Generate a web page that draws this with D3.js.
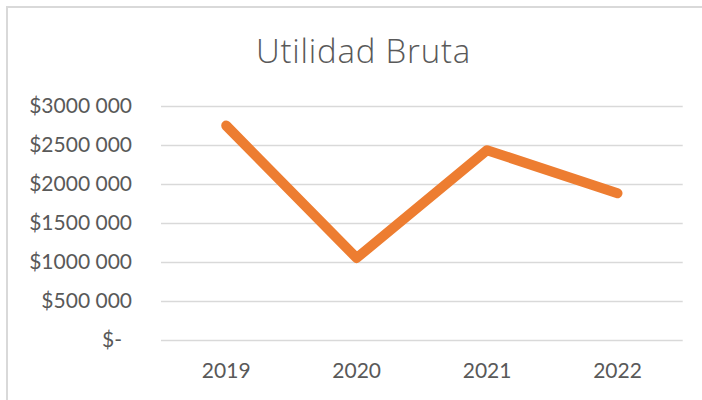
<!DOCTYPE html>
<html>
<head>
<meta charset="utf-8">
<script src="https://cdn.jsdelivr.net/npm/d3@7"></script>
<style>
  html, body { margin: 0; padding: 0; background: #ffffff; }
  svg { display: block; }
</style>
</head>
<body>
<svg id="chart" width="702" height="400"></svg>
<script>
const title = "Utilidad Bruta";
const years = ["2019", "2020", "2021", "2022"];
const utilidadBruta = [2745000, 1050000, 2430000, 1880000];
const yTicks = [0, 500000, 1000000, 1500000, 2000000, 2500000, 3000000];
const yTickLabels = ["$-", "$500 000", "$1000 000", "$1500 000", "$2000 000", "$2500 000", "$3000 000"];

const svg = d3.select("#chart");
const textColor = "#595959";
const font = "Lato, 'Open Sans', sans-serif";

// chart border (cropped on right/bottom)
svg.append("rect")
  .attr("x", 7).attr("y", 7)
  .attr("width", 760).attr("height", 460)
  .attr("fill", "#ffffff")
  .attr("stroke", "#d9d9d9")
  .attr("stroke-width", 2);

const x = d3.scaleBand().domain(years).range([161, 682.7]).padding(0);
const y = d3.scaleLinear().domain([0, 3000000]).range([340, 105.7]);

// gridlines
svg.append("g").selectAll("line")
  .data(yTicks)
  .join("line")
  .attr("x1", 161).attr("x2", 682.7)
  .attr("y1", d => Math.round(y(d)) + 0.5)
  .attr("y2", d => Math.round(y(d)) + 0.5)
  .attr("stroke", "#d9d9d9")
  .attr("stroke-width", 1.3);

// y axis
const yAxis = d3.axisLeft(y)
  .tickValues(yTicks)
  .tickSize(0)
  .tickPadding(29)
  .tickFormat((d, i) => yTickLabels[i]);
const gy = svg.append("g").attr("transform", "translate(161,0)").call(yAxis);
gy.select(".domain").remove();
gy.selectAll("text")
  .attr("fill", textColor)
  .style("font-family", font)
  .style("font-size", "21px")
  .attr("dx", d => d === 0 ? -10 : 0);

// x axis
const xAxis = d3.axisBottom(x).tickSize(0).tickPadding(23);
const gx = svg.append("g").attr("transform", "translate(0,340)").call(xAxis);
gx.select(".domain").remove();
gx.selectAll("text")
  .attr("fill", textColor)
  .style("font-family", font)
  .style("font-size", "21px");

// line
const line = d3.line()
  .x((d, i) => x(years[i]) + x.bandwidth() / 2)
  .y(d => y(d));
svg.append("path")
  .datum(utilidadBruta)
  .attr("d", line)
  .attr("fill", "none")
  .attr("stroke", "#ED7D31")
  .attr("stroke-width", 10)
  .attr("stroke-linecap", "round")
  .attr("stroke-linejoin", "round");

// title
svg.append("text")
  .attr("x", 363.5)
  .attr("y", 63)
  .attr("text-anchor", "middle")
  .attr("fill", textColor)
  .style("font-family", "'Open Sans', Lato, sans-serif")
  .style("font-weight", 300)
  .style("font-size", "33px")
  .style("letter-spacing", "0.8px")
  .text(title);
</script>
</body>
</html>
